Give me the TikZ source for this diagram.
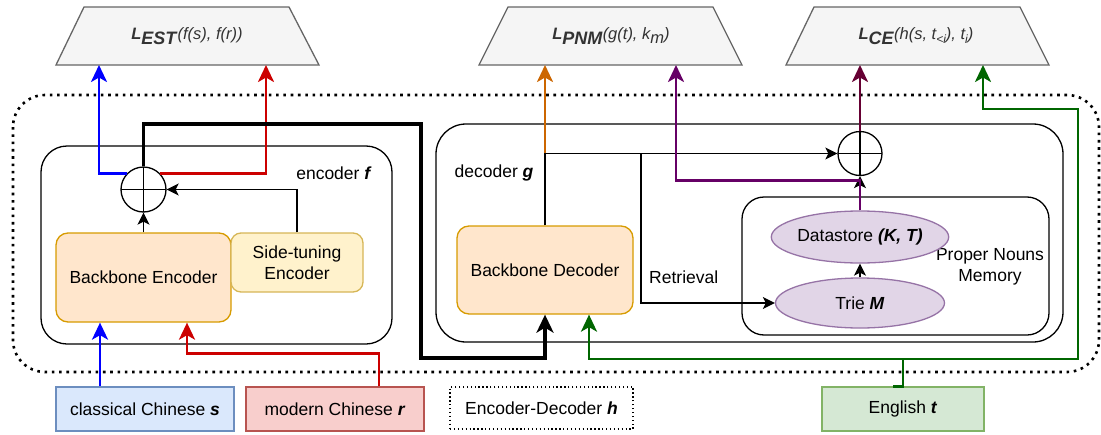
\documentclass[tikz,border=0pt]{standalone}
\usepackage{fontspec}
\setmainfont{Liberation Sans}
\usetikzlibrary{arrows.meta,shapes.geometric,calc}
\definecolor{trapfill}{HTML}{F5F5F5}
\definecolor{trapline}{HTML}{666666}
\definecolor{txtgray}{HTML}{333333}
\definecolor{encfill}{HTML}{FFE6CC}
\definecolor{encline}{HTML}{D79B00}
\definecolor{sidefill}{HTML}{FFF2CC}
\definecolor{sideline}{HTML}{D6B656}
\definecolor{purfill}{HTML}{E1D5E7}
\definecolor{purline}{HTML}{9673A6}
\definecolor{bluefill}{HTML}{DAE8FC}
\definecolor{blueline}{HTML}{6C8EBF}
\definecolor{redfill}{HTML}{F8CECC}
\definecolor{redline}{HTML}{B85450}
\definecolor{grnfill}{HTML}{D5E8D4}
\definecolor{grnline}{HTML}{82B366}
\definecolor{cblue}{HTML}{0000FF}
\definecolor{cred}{HTML}{CC0000}
\definecolor{corange}{HTML}{CC6600}
\definecolor{cpurple}{HTML}{660066}
\definecolor{cmaroon}{HTML}{660033}
\definecolor{cgreen}{HTML}{006600}
\tikzset{
  trap/.style={draw=trapline,fill=trapfill,line width=1.3pt},
  trapText/.style={text=txtgray,anchor=base,inner sep=0pt},
  boxline/.style={draw=black,line width=1.3pt},
  plusnode/.style={circle,draw,line width=1.3pt,minimum size=45pt,inner sep=0pt,
    path picture={\draw[line width=1.3pt] (path picture bounding box.north) -- (path picture bounding box.south)
      (path picture bounding box.west) -- (path picture bounding box.east);}},
  thinarrow/.style={line width=1.3pt,-{Stealth[length=12pt,width=12pt,inset=3pt]}},
  thickarrow/.style={line width=2.7pt,-{Stealth[length=17pt,width=16pt,inset=4.5pt]}},
  heavy/.style={line width=3.3pt},
  lbl/.style={font=\fontsize{17.5}{21}\selectfont,align=center,inner sep=0pt}
}
\begin{document}
\begin{tikzpicture}[x=1pt,y=-1pt,font=\fontsize{17.5}{21}\selectfont]
\useasboundingbox (0,0) rectangle (1101,434);

% dotted encoder-decoder outline
\draw[line width=2.6pt,dash pattern=on 2.6pt off 4.7pt,rounded corners=32pt] (13,95) rectangle (1099,372);

% loss trapezoids
\draw[trap] (84,7) -- (289,7) -- (319,65) -- (56,65) -- cycle;
\draw[trap] (508,7) -- (713,7) -- (742,65) -- (479,65) -- cycle;
\draw[trap] (814,7) -- (1020,7) -- (1049,65) -- (786,65) -- cycle;
\node[trapText] (lest) at (187,39) {\fontsize{16.5}{16}\selectfont\textbf{\textit{L}}\raisebox{-5pt}{\fontsize{18}{17}\selectfont\textbf{\textit{EST}}}\textit{(f(s), f(r))}};
\node[trapText] (lpnm) at (611,39) {\fontsize{16.5}{16}\selectfont\textbf{\textit{L}}\raisebox{-5pt}{\fontsize{18}{17}\selectfont\textbf{\textit{PNM}}}\textit{(g(t), k\raisebox{-4pt}{m})}};
\node[trapText] (lce) at (916,39) {\fontsize{16.5}{16}\selectfont\textbf{\textit{L}}\raisebox{-5pt}{\fontsize{18}{17}\selectfont\textbf{\textit{CE}}}\textit{(h(s, t\raisebox{-4pt}{\fontsize{12}{12}\selectfont <i}), t\raisebox{-4pt}{\fontsize{12}{12}\selectfont i})}};
\coordinate (e1) at (99,65);
\coordinate (e2) at (266,65);
\coordinate (p1) at (545,65);
\coordinate (p2) at (676,65);
\coordinate (c1) at (860,65);
\coordinate (c2) at (983,65);

% encoder container
\draw[boxline,rounded corners=26pt] (41,146) rectangle (392,344);
\node[lbl] (enclbl) at (334,173) {encoder \textbf{\textit{f}}};
% decoder container
\draw[boxline,rounded corners=30pt] (436,124) rectangle (1063,342);
\node[lbl] (declbl) at (494,173) {decoder \textbf{\textit{g}}};
% proper nouns memory container
\draw[boxline,rounded corners=22pt] (742,197) rectangle (1049,335);
\node[lbl] (pnmlbl) at (990,267) {Proper Nouns\\Memory};

% nodes
\node[draw=encline,fill=encfill,line width=1.3pt,rounded corners=12pt,minimum width=175pt,minimum height=89pt,inner sep=0pt] (benc) at (143.5,277.5) {Backbone Encoder};
\node[draw=sideline,fill=sidefill,line width=1.3pt,rounded corners=10pt,minimum width=132pt,minimum height=59pt,inner sep=0pt,align=center] (side) at (297,262.5) {Side-tuning\\Encoder};
\node[plusnode] (circ1) at (143.5,189.5) {};
\node[draw=encline,fill=encfill,line width=1.3pt,rounded corners=12pt,minimum width=176pt,minimum height=88pt,inner sep=0pt] (bdec) at (545,270) {Backbone Decoder};
\node[plusnode,minimum size=44pt] (circ2) at (860,153.5) {};
\node[ellipse,draw=purline,fill=purfill,line width=1.3pt,minimum width=169pt,minimum height=52pt,inner sep=0pt] (ds) at (860,237) {Datastore \textbf{\textit{(K, T)}}};
\node[ellipse,draw=purline,fill=purfill,line width=1.3pt,minimum width=169pt,minimum height=50pt,inner sep=0pt] (trie) at (860,303) {Trie \textbf{\textit{M}}};
\node[anchor=west,inner sep=0pt] (retr) at (649,277) {Retrieval};

% inputs
\node[draw=blueline,fill=bluefill,line width=1.3pt,minimum width=178pt,minimum height=44pt,inner sep=0pt] (cls) at (145,409) {classical Chinese \textbf{\textit{s}}};
\node[draw=redline,fill=redfill,line width=1.3pt,minimum width=178pt,minimum height=44pt,inner sep=0pt] (mod) at (335,409) {modern Chinese \textbf{\textit{r}}};
\node[draw=black,line width=1.3pt,dash pattern=on 1.3pt off 2.6pt,minimum width=183pt,minimum height=42pt,inner sep=0pt] (ed) at (541.5,408) {Encoder-Decoder \textbf{\textit{h}}};
\node[draw=grnline,fill=grnfill,line width=1.3pt,minimum width=162pt,minimum height=44pt,inner sep=0pt] (eng) at (903,409) {English \textbf{\textit{t}}};

% encoder connectors
\draw[thinarrow] (benc.north) -- (circ1.south);
\draw[thinarrow] (side.north) |- (circ1.east);
\draw[thickarrow,cblue] ([xshift=-45pt]cls.north) -- ([xshift=-43.5pt]benc.south);
\draw[thickarrow,cred] ([xshift=44pt]mod.north) -- ++(0,-33) -| ([xshift=43.5pt]benc.south);
\draw[thickarrow,cblue] (circ1.136) -| (e1);
\draw[thickarrow,cred] (circ1.44) -| (e2);

% encoder -> decoder (heavy)
\coordinate (k1) at (421,124);
\coordinate (k2) at (421,358);
\draw[heavy,-{Stealth[length=18pt,width=17pt,inset=5pt]}] (circ1.north) |- (k1) -- (k2) -| (bdec.south);

% decoder connectors
\draw[thickarrow,corange] (bdec.north) -- (p1);
\draw[thinarrow] (bdec.north) |- (circ2.west);
\coordinate (j1) at (641,153.5);
\draw[thinarrow] (j1) |- (trie.west);
\draw[thinarrow] (trie.north) -- (ds.south);
\draw[thinarrow] (ds.north) -- (circ2.south);
\draw[thickarrow,cpurple] (ds.north) -- ++(0,-30) -| (p2);
\draw[thickarrow,cmaroon] (circ2.north) -- (c1);

% English connectors
\coordinate (g0) at (903,359);
\coordinate (g1) at (1078,109);
\draw[line width=2.7pt,cgreen] ([xshift=-10pt]eng.north) -- (eng.north) -- (g0);
\draw[thickarrow,cgreen] (g0) -| ([xshift=44pt]bdec.south);
\draw[thickarrow,cgreen] (g0) -| (g1) -| (c2);
\end{tikzpicture}
\end{document}
